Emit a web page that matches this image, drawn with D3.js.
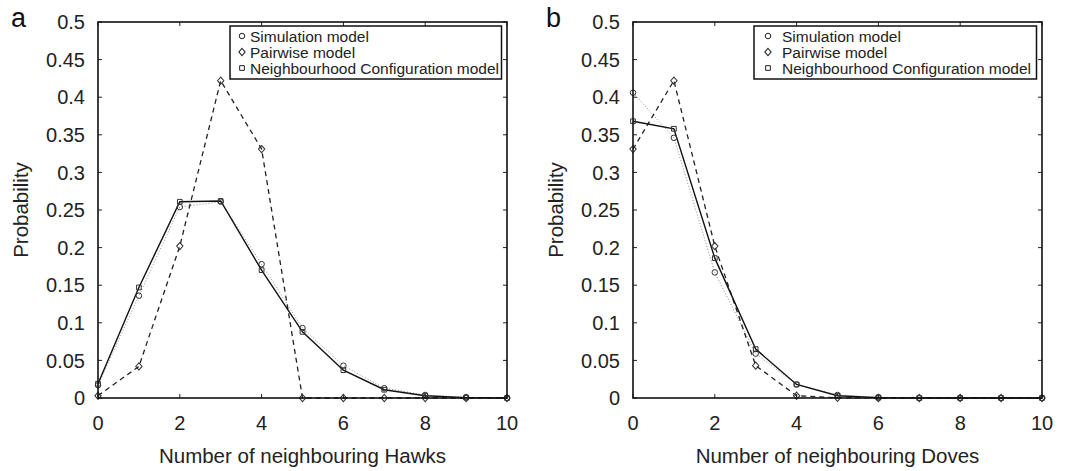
<!DOCTYPE html>
<html>
<head>
<meta charset="utf-8">
<script src="https://cdn.jsdelivr.net/npm/d3@7"></script>
<style>
  html, body { margin: 0; padding: 0; background: #fff; }
  svg { display: block; font-family: "Liberation Sans", Arial, sans-serif; }
</style>
</head>
<body>
<svg id="chart" width="1070" height="471"></svg>
<script>
// neighbour counts 0..10
const counts = [0, 1, 2, 3, 4, 5, 6, 7, 8, 9, 10];

// panel a: neighbouring Hawks
const hawksSimulation = [0.017, 0.136, 0.254, 0.261, 0.178, 0.093, 0.043, 0.013, 0.004, 0.001, 0];
const hawksPairwise = [0.003, 0.042, 0.202, 0.422, 0.331, 0, 0, 0, 0, 0, 0];
const hawksNeighbourhood = [0.019, 0.147, 0.261, 0.262, 0.170, 0.088, 0.037, 0.011, 0.003, 0.0005, 0];

// panel b: neighbouring Doves
const dovesSimulation = [0.406, 0.346, 0.167, 0.059, 0.018, 0.004, 0.001, 0, 0, 0, 0];
const dovesPairwise = [0.331, 0.422, 0.202, 0.043, 0.003, 0.0003, 0, 0, 0, 0, 0];
const dovesNeighbourhood = [0.368, 0.358, 0.186, 0.065, 0.018, 0.003, 0.0005, 0, 0, 0, 0];

const xTicks = [0, 2, 4, 6, 8, 10];
const yTicks = [0, 0.05, 0.1, 0.15, 0.2, 0.25, 0.3, 0.35, 0.4, 0.45, 0.5];
const legendLabels = ['Simulation model', 'Pairwise model', 'Neighbourhood Configuration model'];

const svg = d3.select('#chart');

// marker shapes, drawn as open outlines
const symbols = {
  circle: d3.symbol().type(d3.symbolCircle).size(24),
  diamond: d3.symbol().type(d3.symbolDiamond).size(24),
  square: d3.symbol().type(d3.symbolSquare).size(22)
};
// d3's diamond is quite tall; squash it a bit
const shapeScale = { circle: '', diamond: ' scale(1.2,0.8)', square: '' };

const seriesStyle = [
  { symbol: 'circle', stroke: '#8a8a8a', width: 1, dash: '1,2' },
  { symbol: 'diamond', stroke: '#222', width: 1.3, dash: '5,4' },
  { symbol: 'square', stroke: '#111', width: 1.4, dash: null }
];

function drawPanel(spec) {
  const left = spec.left;
  const right = left + 409;
  const top = 22;
  const bottom = 398;

  const x = d3.scaleLinear().domain([0, 10]).range([left, right]);
  const y = d3.scaleLinear().domain([0, 0.5]).range([bottom, top]);

  const g = svg.append('g');

  // tick labels
  g.selectAll('.xlab').data(xTicks).join('text')
    .attr('x', (d) => x(d)).attr('y', 430)
    .attr('text-anchor', 'middle').attr('font-size', 20).attr('fill', '#222')
    .text((d) => d);
  g.selectAll('.ylab').data(yTicks).join('text')
    .attr('x', left - 13).attr('y', (d) => y(d)).attr('dy', '0.36em')
    .attr('text-anchor', 'end').attr('font-size', 20).attr('fill', '#222')
    .text((d) => d3.format('~g')(d));

  // inward ticks on all four sides
  const tickLen = 4;
  g.selectAll('.xt').data(xTicks).join('path')
    .attr('d', (d) => `M${x(d)},${bottom}v${-tickLen}M${x(d)},${top}v${tickLen}`)
    .attr('stroke', '#222').attr('stroke-width', 1);
  g.selectAll('.yt').data(yTicks).join('path')
    .attr('d', (d) => `M${left},${y(d)}h${tickLen}M${right},${y(d)}h${-tickLen}`)
    .attr('stroke', '#222').attr('stroke-width', 1);

  // axis titles and panel letter
  g.append('text')
    .attr('x', (left + right) / 2).attr('y', 463)
    .attr('text-anchor', 'middle').attr('font-size', 20.5).attr('fill', '#222')
    .text(spec.xTitle);
  g.append('text')
    .attr('transform', `translate(${left - 70},${(top + bottom) / 2}) rotate(-90)`)
    .attr('text-anchor', 'middle').attr('font-size', 20.5).attr('fill', '#222')
    .text('Probability');
  g.append('text')
    .attr('x', left - 87).attr('y', 27)
    .attr('font-size', 27).attr('fill', '#111')
    .text(spec.letter);

  // series lines then markers
  const line = d3.line().x((d) => x(d[0])).y((d) => y(d[1]));
  spec.series.forEach((values, i) => {
    const st = seriesStyle[i];
    const pts = counts.map((c, k) => [c, values[k]]);
    g.append('path').datum(pts)
      .attr('d', line).attr('fill', 'none')
      .attr('stroke', st.stroke).attr('stroke-width', st.width)
      .attr('stroke-dasharray', st.dash);
  });
  spec.series.forEach((values, i) => {
    const st = seriesStyle[i];
    g.selectAll(null).data(counts).join('path')
      .attr('transform', (c, k) => `translate(${x(c)},${y(values[k])})${shapeScale[st.symbol]}`)
      .attr('d', symbols[st.symbol]())
      .attr('fill', 'none').attr('stroke', '#333').attr('stroke-width', 1);
  });

  // frame
  g.append('rect')
    .attr('x', left).attr('y', top).attr('width', right - left).attr('height', bottom - top)
    .attr('fill', 'none').attr('stroke', '#111').attr('stroke-width', 1.6);

  // legend
  const lg = g.append('g');
  lg.append('rect')
    .attr('x', spec.legendLeft).attr('y', 26)
    .attr('width', right - 5.5 - spec.legendLeft).attr('height', 53)
    .attr('fill', '#fff').attr('stroke', '#111').attr('stroke-width', 1.5);
  legendLabels.forEach((label, i) => {
    const cy = 36 + i * 16;
    const st = seriesStyle[i];
    lg.append('path')
      .attr('transform', `translate(${spec.legendMarker},${cy})${shapeScale[st.symbol]}`)
      .attr('d', symbols[st.symbol]())
      .attr('fill', 'none').attr('stroke', '#222').attr('stroke-width', 1);
    lg.append('text')
      .attr('x', spec.legendText).attr('y', cy + 5.5)
      .attr('font-size', 15.5).attr('fill', '#222')
      .text(label);
  });
}

drawPanel({
  left: 98, letter: 'a', xTitle: 'Number of neighbouring Hawks',
  series: [hawksSimulation, hawksPairwise, hawksNeighbourhood],
  legendLeft: 230, legendMarker: 242, legendText: 250
});
drawPanel({
  left: 633, letter: 'b', xTitle: 'Number of neighbouring Doves',
  series: [dovesSimulation, dovesPairwise, dovesNeighbourhood],
  legendLeft: 754, legendMarker: 768, legendText: 782
});
</script>
</body>
</html>
